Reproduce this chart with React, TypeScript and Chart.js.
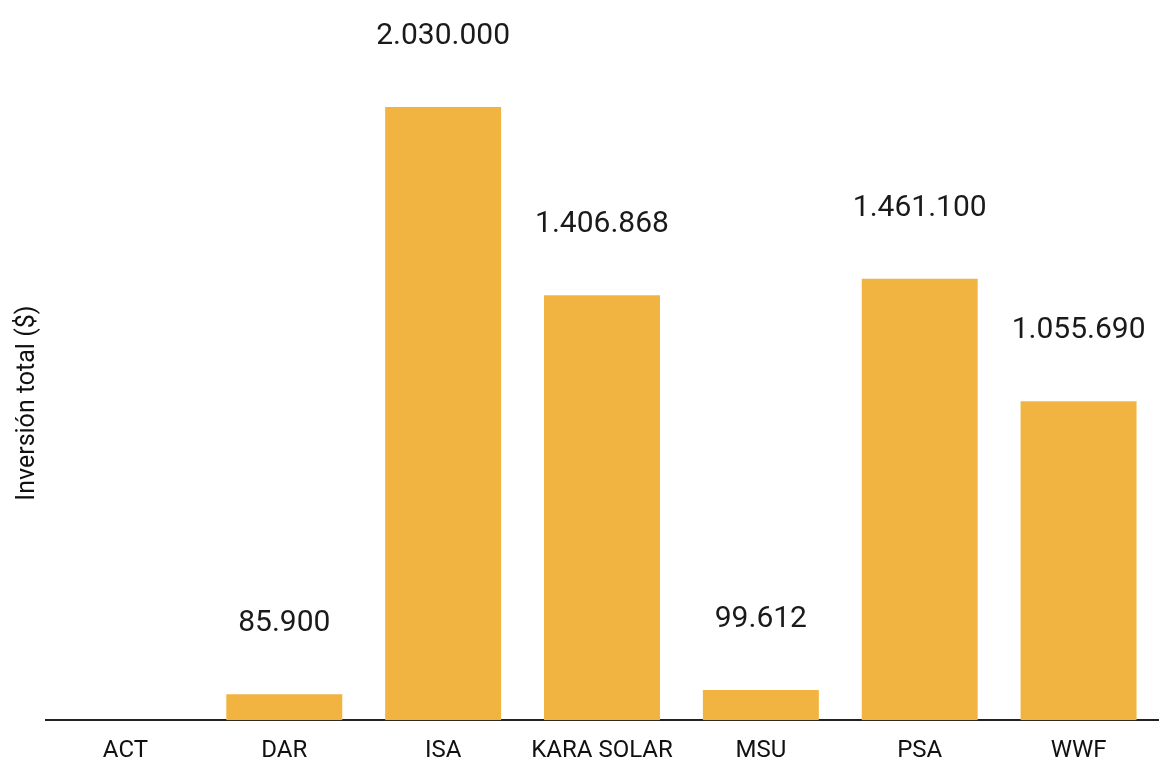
import React, { useEffect, useRef } from "react";
import { Chart, registerables } from "chart.js";

Chart.register(...registerables);

const categories = ["ACT", "DAR", "ISA", "KARA SOLAR", "MSU", "PSA", "WWF"];
const investment = [0, 85900, 2030000, 1406868, 99612, 1461100, 1055690];
const yAxisTitle = "Inversión total ($)";

const fmt = (v: number) =>
  String(Math.round(v)).replace(/\B(?=(\d{3})+(?!\d))/g, ".");

const valueLabels = {
  id: "valueLabels",
  afterDatasetsDraw(chart: any) {
    const ctx = chart.ctx;
    const meta = chart.getDatasetMeta(0);
    ctx.save();
    ctx.font = "30px Roboto";
    ctx.fillStyle = "#1a1a1a";
    ctx.textAlign = "center";
    ctx.textBaseline = "alphabetic";
    meta.data.forEach((bar: any, i: number) => {
      const v = investment[i];
      if (!v) return;
      ctx.fillText(fmt(v), bar.x, bar.y - 63);
    });
    ctx.restore();
  },
};

export default function App() {
  const ref = useRef<HTMLCanvasElement>(null);
  useEffect(() => {
    document.body.style.margin = "0";
    const chart = new Chart(ref.current!, {
      type: "bar",
      data: {
        labels: categories,
        datasets: [
          {
            data: investment,
            backgroundColor: "#F2B441",
            barPercentage: 0.73,
            categoryPercentage: 1,
          },
        ],
      },
      options: {
        animation: false,
        responsive: false,
        layout: { padding: { left: 9, right: 2, top: 86, bottom: -21 } },
        plugins: { legend: { display: false }, tooltip: { enabled: false } },
        scales: {
          x: {
            grid: { display: false, drawTicks: false },
            border: { display: true, color: "#222", width: 2 },
            ticks: {
              font: { family: "Roboto", size: 24 },
              color: "#111",
              padding: 16,
            },
          },
          y: {
            min: 0,
            max: 2099500,
            grid: { display: false, drawTicks: false },
            border: { display: false },
            ticks: { display: false },
            title: {
              display: true,
              text: yAxisTitle,
              font: { family: "Roboto", size: 25 },
              color: "#111",
              padding: { top: 4, bottom: 3 },
            },
          },
        },
      },
      plugins: [valueLabels],
    });
    return () => chart.destroy();
  }, []);
  return (
    <div style={{ width: 1160, height: 760 }}>
      <canvas ref={ref} width={1160} height={760} style={{ display: "block" }} />
    </div>
  );
}
